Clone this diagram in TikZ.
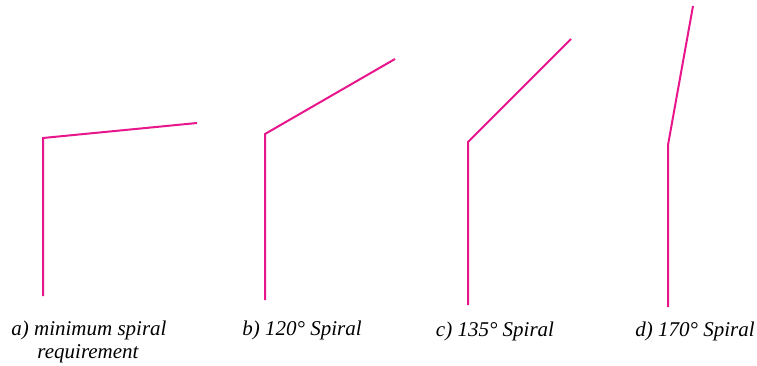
\documentclass[tikz,border=0pt]{standalone}
\usepackage{fontspec}
\setmainfont{Liberation Serif}
\definecolor{spiral}{RGB}{232,22,140}
\begin{document}
\begin{tikzpicture}[x=1pt,y=-1pt,
  bar/.style={draw=spiral,line width=2pt,line join=miter},
  lbl/.style={font=\fontsize{21}{25}\selectfont\itshape,anchor=base,inner sep=0pt,align=center}]
\useasboundingbox (0,0) rectangle (757,366);
% a
\coordinate (a0) at (43,296);
\coordinate (a1) at (43,138);
\coordinate (a2) at (197,123);
\draw[bar] (a0) -- (a1) -- (a2);
% b
\coordinate (b0) at (265,300);
\coordinate (b1) at (265,134);
\coordinate (b2) at (395,59);
\draw[bar] (b0) -- (b1) -- (b2);
% c
\coordinate (c0) at (468,305);
\coordinate (c1) at (468,142);
\coordinate (c2) at (571,39);
\draw[bar] (c0) -- (c1) -- (c2);
% d
\coordinate (d0) at (668,307);
\coordinate (d1) at (668,145);
\coordinate (d2) at (693,6);
\draw[bar] (d0) -- (d1) -- (d2);
% labels
\node[lbl] (la) at (89,335) {a) minimum spiral};
\node[lbl] (la2) at (88,358) {requirement};
\node[lbl] (lb) at (302,335) {b) 120° Spiral};
\node[lbl] (lc) at (495,336) {c) 135° Spiral};
\node[lbl] (ld) at (695,336) {d) 170° Spiral};
\end{tikzpicture}
\end{document}
